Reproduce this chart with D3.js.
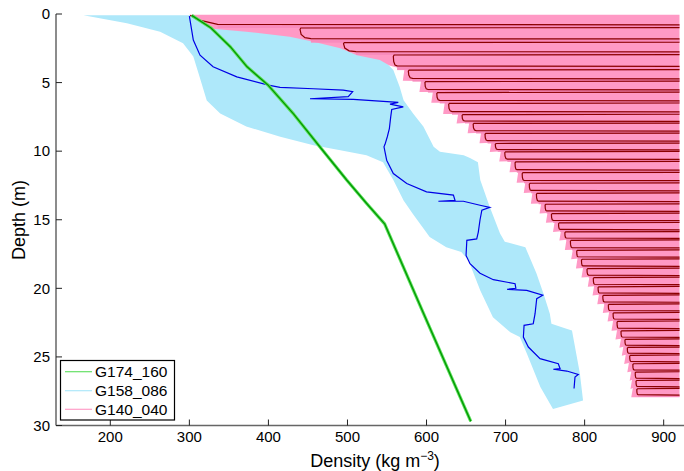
<!DOCTYPE html>
<html><head><meta charset="utf-8">
<script src="https://cdn.jsdelivr.net/npm/d3@7"></script>
<style>
body{margin:0;background:#fff}
svg{display:block}
text{font-family:"Liberation Sans",Arial,Helvetica,sans-serif;fill:#000}
</style>
</head><body>
<svg id="chart" width="684" height="471"></svg>
<script>
// ---------- data ----------
const xTicks = [200, 300, 400, 500, 600, 700, 800, 900];
const yTicks = [0, 5, 10, 15, 20, 25, 30];
const legendNames = ["G174_160", "G158_086", "G140_040"];

// G174_160 profile (density kg m^-3, depth m)
const greenDensity = [303, 327, 352, 373, 399, 432, 465, 499, 524, 547, 596, 656];
const greenDepth   = [0.1, 1.0, 2.4, 3.85, 5.15, 7.3, 9.68, 12.1, 13.8, 15.3, 21.8, 29.7];

// G158_086 envelope
const blueLeftDensity  = [166, 221, 263, 292, 305, 313, 322, 339, 372, 415, 457, 491, 524, 545, 558, 571, 583, 604, 625, 644, 653, 668, 684, 706, 718, 727, 744, 756, 760];
const blueLeftDepth    = [0.1, 0.68, 1.29, 2.14, 3.1, 4.6, 6.3, 7.25, 8.2, 8.95, 9.56, 9.93, 10.3, 10.8, 12.1, 13.6, 14.6, 16.25, 17.0, 17.35, 17.96, 20.15, 22.1, 23.2, 23.55, 24.77, 27.2, 28.4, 28.8];
const blueRightDensity = [560, 548, 550, 558, 566, 571, 583, 596, 609, 617, 647, 655, 665, 668, 680, 693, 699, 725, 739, 748, 756, 758, 777, 784, 794, 798];
const blueRightDepth   = [0.1, 3.3, 3.6, 4.09, 5.3, 6.28, 7.25, 8.2, 9.68, 10.05, 10.3, 10.5, 10.8, 12.1, 14.07, 16.0, 16.6, 17.0, 18.9, 20.4, 21.85, 22.58, 22.95, 23.07, 26.2, 28.17];
// G158_086 mean profile
const blueMeanDensity = [300, 305, 313.5, 330, 360, 400, 414.7, 456.8, 494.7, 506.6, 501, 452.6, 507.4, 564.3, 553.8, 570.6, 556, 554.7, 553, 550.4, 547.5, 546.2, 549.6, 558, 575, 600, 634, 636, 615, 646.6, 667.7, 680, 670, 667.7, 665.5, 663.5, 651, 650, 655, 667.7, 684.5, 712, 713, 702, 726.8, 747, 739.4, 737.3, 735, 723.4, 722.5, 728.8, 743.6, 766.7, 769, 760.4, 777.4, 792, 787.8, 786.6];
const blueMeanDepth   = [0.15, 1.9, 3.0, 3.85, 4.58, 5.18, 5.35, 5.45, 5.55, 5.67, 6.03, 6.18, 6.23, 6.45, 6.57, 6.77, 6.96, 7.5, 8.35, 8.95, 9.5, 9.68, 10.66, 11.63, 12.36, 12.97, 13.2, 13.58, 13.65, 13.65, 13.94, 14.1, 14.3, 15.0, 15.9, 16.4, 16.5, 17.6, 18.2, 18.9, 19.37, 19.66, 20.0, 20.07, 20.15, 20.5, 20.75, 21.85, 22.58, 22.7, 23.55, 24.28, 25.13, 25.5, 25.86, 25.9, 26.03, 26.28, 26.47, 27.3];

// G140_040 envelope (upper-left edge) and right limit
const pinkEdgeDensity = [300, 326, 372, 427, 457, 491, 512, 541, 553];
const pinkEdgeDepth   = [0.05, 1.05, 1.29, 1.65, 2.02, 2.5, 3.0, 3.36, 3.75];
const pinkMaxDensity = 920;
// G140_040 profile: leftmost point of each cycle
const toothDensity = [301, 440, 495, 558, 577, 598, 613, 628, 645, 659, 674, 687, 699, 712, 721, 730, 739, 750, 758, 767, 775, 782, 790, 796, 803, 811, 817, 823, 830, 836, 841, 846, 851, 854, 857, 861, 864, 865, 866];
const toothDepth   = [0.1, 1.02, 2.09, 2.99, 4.09, 4.93, 5.73, 6.52, 7.34, 7.98, 8.71, 9.44, 10.05, 10.78, 11.57, 12.34, 13.07, 13.87, 14.55, 15.23, 15.89, 16.5, 17.23, 17.88, 18.56, 19.22, 19.89, 20.51, 21.17, 21.79, 22.41, 23.1, 23.72, 24.31, 24.89, 25.5, 26.11, 26.72, 27.32];

// ---------- drawing ----------
const svg = d3.select("#chart");
const x = d3.scaleLinear().domain([131.3, 925.7]).range([56, 684]);
const y = d3.scaleLinear().domain([0, 30]).range([14, 425.5]);

svg.append("defs").append("clipPath").attr("id", "clip")
  .append("rect").attr("x", 56).attr("y", 12).attr("width", 628).attr("height", 413.5);
const plot = svg.append("g").attr("clip-path", "url(#clip)");

const line = d3.line().x(d => x(d[0])).y(d => y(d[1]));
const zip = (a, b) => a.map((v, i) => [v, b[i]]);

// blue envelope
const bluePoly = zip(blueLeftDensity, blueLeftDepth).concat(zip(blueRightDensity, blueRightDepth).reverse());
plot.append("path").attr("d", line(bluePoly) + "Z").attr("fill", "#aee8fa");

// teeth geometry
const n = toothDensity.length;
const teeth = toothDensity.map((L, i) => {
  const d = toothDepth[i];
  const gap = i < n - 1 ? toothDepth[i + 1] - d : toothDepth[i] - toothDepth[i - 1];
  const dL = i < n - 1 ? toothDensity[i + 1] - L : 3;
  return {i, L, d, dl: d + 0.72 * gap, off: Math.max(1.5, 0.25 * dL), next: i < n - 1 ? toothDepth[i + 1] : d + gap};
});

// pink envelope
const pinkLeft = zip(pinkEdgeDensity, pinkEdgeDepth);
teeth.forEach((t, i) => {
  if (i >= 4) {
    pinkLeft.push([t.L - 5, t.d - 0.05]);
    pinkLeft.push([t.L - 7, t.dl + 0.18]);
  }
});
const last = pinkLeft[pinkLeft.length - 1];
const pinkPoly = pinkLeft.concat([[pinkMaxDensity, last[1]], [pinkMaxDensity, pinkEdgeDepth[0]]]);
plot.append("path").attr("d", line(pinkPoly) + "Z").attr("fill", "#ff99c5");

// slightly darker pink band between the paired profile lines
teeth.forEach(t => {
  const x0 = x(t.L + t.off), y0 = y(t.dl);
  plot.append("rect").attr("x", x0).attr("y", y0)
    .attr("width", x(pinkMaxDensity) - x0)
    .attr("height", Math.max(0, y(t.next) - y0))
    .attr("fill", "#f98bbd");
});

// dark red profile
teeth.forEach(t => {
  const h = t.dl - t.d;
  const pts = t.i === 0
    ? [[t.L, t.d], [t.L + 0.3 * t.off, t.d + 0.5 * h], [t.L + t.off, t.dl], [pinkMaxDensity, t.dl + 0.03]]
    : [
      [pinkMaxDensity, t.d - 0.03], [t.L + 1, t.d], [t.L, t.d + 0.12 * h],
      [t.L + 0.1 * t.off, t.d + 0.6 * h], [t.L + 0.45 * t.off, t.d + 0.92 * h],
      [t.L + t.off, t.dl], [pinkMaxDensity, t.dl + 0.03]
    ];
  plot.append("path").attr("d", line(pts)).attr("fill", "none")
    .attr("stroke", "#8b0000").attr("stroke-width", 1.2);
});

// blue mean
plot.append("path").attr("d", line(zip(blueMeanDensity, blueMeanDepth)))
  .attr("fill", "none").attr("stroke", "#0000e6").attr("stroke-width", 1.2);

// green
const gpts = zip(greenDensity, greenDepth);
plot.append("path").attr("d", line(gpts)).attr("fill", "none")
  .attr("stroke", "#5ee05e").attr("stroke-width", 3.2).attr("stroke-linejoin", "round");
plot.append("path").attr("d", line(gpts)).attr("fill", "none")
  .attr("stroke", "#009a00").attr("stroke-width", 1.3).attr("stroke-linejoin", "round");

// axes
const ax = svg.append("g");
ax.append("line").attr("x1", 56).attr("x2", 56).attr("y1", y(0)).attr("y2", y(30))
  .attr("stroke", "#666").attr("stroke-width", 1.5);
ax.append("line").attr("x1", 56).attr("x2", 684).attr("y1", y(30)).attr("y2", y(30))
  .attr("stroke", "#666").attr("stroke-width", 1.5);
yTicks.forEach(t => {
  ax.append("line").attr("x1", 56).attr("x2", 62).attr("y1", y(t)).attr("y2", y(t))
    .attr("stroke", "#222").attr("stroke-width", 1);
  ax.append("text").attr("x", 50).attr("y", y(t)).attr("dy", "0.35em")
    .attr("text-anchor", "end").attr("font-size", 15).text(t);
});
xTicks.forEach(t => {
  ax.append("line").attr("x1", x(t)).attr("x2", x(t)).attr("y1", y(30)).attr("y2", y(30) - 6)
    .attr("stroke", "#222").attr("stroke-width", 1);
  ax.append("text").attr("x", x(t)).attr("y", 441.7)
    .attr("text-anchor", "middle").attr("font-size", 15).text(t);
});
const xl = svg.append("text").attr("x", 375).attr("y", 467).attr("text-anchor", "middle").attr("font-size", 18);
xl.append("tspan").text("Density (kg m");
xl.append("tspan").attr("font-size", 12).attr("dy", -7).text("\u22123");
xl.append("tspan").attr("dy", 7).text(")");
svg.append("text").attr("transform", "translate(25,220) rotate(-90)")
  .attr("text-anchor", "middle").attr("font-size", 18).text("Depth (m)");

// legend
const lg = svg.append("g");
lg.append("rect").attr("x", 60.5).attr("y", 360.5).attr("width", 114).attr("height", 59.5)
  .attr("fill", "#fff").attr("stroke", "#000").attr("stroke-width", 1.2);
const legendColors = ["#66e066", "#aee8fa", "#ff9fc8"];
const rowsY = [371.7, 390.7, 409.3];
legendNames.forEach((name, i) => {
  lg.append("line").attr("x1", 65).attr("x2", 92).attr("y1", rowsY[i]).attr("y2", rowsY[i])
    .attr("stroke", legendColors[i]).attr("stroke-width", 1.2);
  lg.append("text").attr("x", 95).attr("y", rowsY[i]).attr("dy", "0.36em")
    .attr("font-size", 15.5).text(name);
});
</script>
</body></html>
